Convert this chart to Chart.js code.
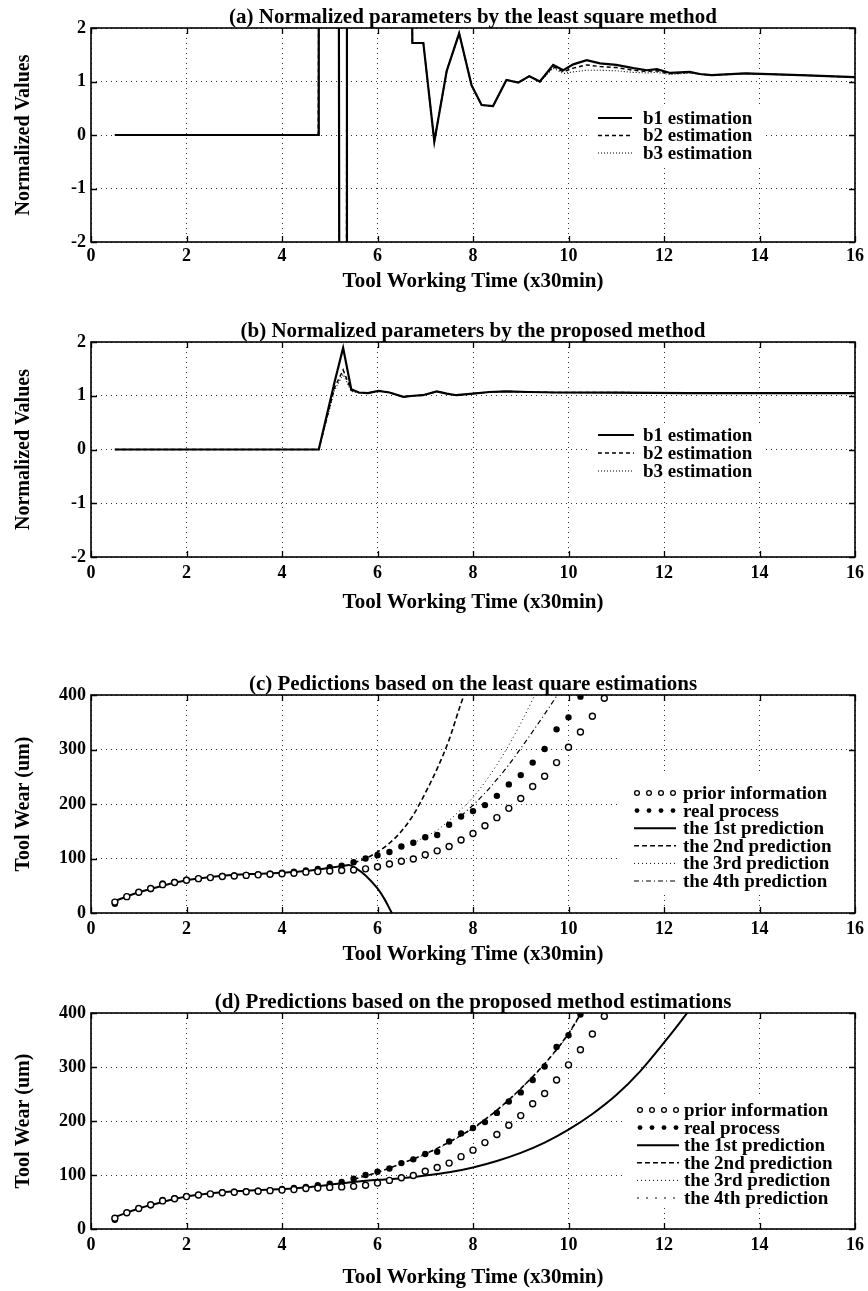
<!DOCTYPE html>
<html>
<head>
<meta charset="utf-8">
<title>Tool wear estimation</title>
<script src="https://cdn.jsdelivr.net/npm/chart.js@4.4.1/dist/chart.umd.min.js"></script>
<style>
  html, body { margin: 0; padding: 0; background: #fff; }
  #page { position: relative; width: 868px; height: 1291px; overflow: hidden; }
  canvas { position: absolute; left: 0; }
</style>
</head>
<body>
<div id="page">
  <canvas id="chartA" width="868" height="310" style="top:0"></canvas>
  <canvas id="chartB" width="868" height="320" style="top:310px"></canvas>
  <canvas id="chartC" width="868" height="345" style="top:630px"></canvas>
  <canvas id="chartD" width="868" height="316" style="top:975px"></canvas>
</div>
<script>
// ---- (a) normalized parameters, least square method ----
const timeLS = [0.5, 4.76, 4.77, 5.19, 5.2, 5.35, 5.36, 6.72, 6.73, 6.96, 7.19, 7.45, 7.71, 7.97, 8.18, 8.42, 8.7, 8.95, 9.18, 9.4, 9.68, 9.89, 10.1, 10.38, 10.66, 11.0, 11.36, 11.64, 11.85, 12.13, 12.54, 12.75, 13.0, 13.7, 14.85, 16.0];
const b1LS = [0, 0, 3, 3, -3, -3, 3, 3, 1.72, 1.72, -0.12, 1.2, 1.9, 0.93, 0.56, 0.54, 1.03, 0.98, 1.1, 1.0, 1.31, 1.21, 1.32, 1.40, 1.34, 1.31, 1.25, 1.21, 1.23, 1.16, 1.18, 1.14, 1.12, 1.15, 1.12, 1.08];
const b2LS = [0, 0, 3, 3, -3, -3, 3, 3, 1.72, 1.72, -0.12, 1.2, 1.9, 0.93, 0.56, 0.54, 1.03, 0.98, 1.1, 1.0, 1.28, 1.18, 1.25, 1.31, 1.28, 1.26, 1.21, 1.19, 1.2, 1.15, 1.17, 1.14, 1.12, 1.15, 1.12, 1.08];
const b3LS = [0, 0, 3, 3, -3, -3, 3, 3, 1.72, 1.72, -0.12, 1.2, 1.9, 0.93, 0.56, 0.54, 1.03, 0.98, 1.1, 1.0, 1.25, 1.15, 1.18, 1.21, 1.21, 1.2, 1.17, 1.16, 1.17, 1.13, 1.16, 1.13, 1.12, 1.15, 1.12, 1.08];

// ---- (b) normalized parameters, proposed method ----
const timeProp = [0.5, 4.77, 5.1, 5.28, 5.45, 5.61, 5.8, 6.02, 6.25, 6.54, 6.75, 6.95, 7.24, 7.45, 7.65, 8.0, 8.35, 8.7, 9.17, 9.75, 11.0, 12.5, 14.0, 16.0];
const b1Prop = [0, 0, 1.25, 1.89, 1.12, 1.06, 1.05, 1.09, 1.06, 0.98, 1.0, 1.01, 1.08, 1.04, 1.01, 1.04, 1.07, 1.08, 1.07, 1.06, 1.06, 1.05, 1.05, 1.05];
const b2Prop = [0, 0, 1.15, 1.48, 1.1, 1.06, 1.05, 1.09, 1.06, 0.98, 1.0, 1.01, 1.08, 1.04, 1.01, 1.04, 1.07, 1.08, 1.07, 1.06, 1.06, 1.05, 1.05, 1.05];
const b3Prop = [0, 0, 1.1, 1.4, 1.08, 1.05, 1.05, 1.09, 1.06, 0.98, 1.0, 1.01, 1.08, 1.04, 1.01, 1.04, 1.07, 1.08, 1.07, 1.06, 1.06, 1.05, 1.05, 1.05];

// ---- (c)/(d) measured tool wear ----
const wearTime = [0.5, 0.75, 1, 1.25, 1.5, 1.75, 2, 2.25, 2.5, 2.75, 3, 3.25, 3.5, 3.75, 4, 4.25, 4.5, 4.75, 5, 5.25, 5.5, 5.75, 6, 6.25, 6.5, 6.75, 7, 7.25, 7.5, 7.75, 8, 8.25, 8.5, 8.75, 9, 9.25, 9.5, 9.75, 10, 10.25, 10.5, 10.75];
const priorWear = [20, 30, 38, 45, 52, 56, 60, 63, 65, 67, 68, 69, 70, 71, 72, 73, 75, 76, 77, 78, 79, 81, 85, 90, 95, 99, 107, 114, 122, 134, 146, 160, 175, 192, 210, 232, 251, 276, 304, 332, 361, 394];
const realWear = [17, 30, 38, 44, 54, 57, 61, 63, 65, 68, 69, 70, 71, 72, 74, 76, 78, 81, 84, 87, 93, 100, 106, 112, 122, 129, 139, 143, 162, 177, 187, 198, 215, 236, 253, 276, 301, 337, 359, 397];

// predictions from the least square estimations (c)
const pred1TimeC = [0.5, 1, 1.5, 2, 2.5, 3, 3.5, 4, 4.5, 5, 5.25, 5.4, 5.55, 5.75, 6, 6.15, 6.3, 6.4];
const pred1C = [22, 38, 50, 60, 66, 70, 72, 74, 77, 83, 86, 88, 82, 69, 45, 25, 0, -15];
const pred2TimeC = [5.5, 5.75, 6, 6.25, 6.5, 6.75, 7, 7.25, 7.5, 7.75, 7.9];
const pred2C = [92, 100, 112, 128, 150, 180, 220, 265, 318, 385, 420];
const pred3TimeC = [6.75, 7, 7.25, 7.5, 7.75, 8, 8.25, 8.5, 8.75, 9, 9.25, 9.4];
const pred3C = [128, 140, 152, 170, 190, 212, 240, 272, 308, 348, 392, 420];
const pred4TimeC = [7.75, 8, 8.25, 8.5, 8.75, 9, 9.25, 9.5, 9.75, 9.9];
const pred4C = [178, 198, 220, 245, 272, 302, 333, 365, 398, 420];

// predictions from the proposed method estimations (d)
const pred1TimeD = [0.5, 1, 1.5, 2, 2.5, 3, 3.5, 4, 4.5, 5, 5.5, 6, 6.5, 7, 7.5, 8, 8.5, 9, 9.5, 10, 10.5, 11, 11.5, 12, 12.5, 12.6];
const pred1D = [22, 38, 50, 60, 66, 70, 72, 74, 77, 82, 87, 91, 94, 99, 105, 114, 126, 141, 160, 184, 213, 248, 292, 345, 402, 415];
const pred2TimeD = [5.5, 6, 6.5, 7, 7.5, 8, 8.5, 9, 9.5, 10, 10.25, 10.4];
const pred2D = [92, 105, 121, 139, 161, 187, 220, 260, 306, 362, 398, 420];
const pred3TimeD = [6.75, 7, 7.5, 8, 8.5, 9, 9.5, 10, 10.25, 10.4];
const pred3D = [129, 138, 160, 186, 219, 259, 305, 360, 396, 418];
const pred4TimeD = [7.75, 8, 8.5, 9, 9.5, 10, 10.25, 10.4];
const pred4D = [176, 186, 220, 260, 306, 361, 397, 420];

const xTicks = [0, 2, 4, 6, 8, 10, 12, 14, 16];

const SERIF = '"Liberation Serif", "Times New Roman", serif';
Chart.defaults.font.family = SERIF;
Chart.defaults.color = '#000';

function pts(xs, ys) {
    return ys.map((y, i) => ({ x: xs[i], y: y }));
}

// box around the plot with inward ticks on all four sides (matlab style),
// plus the panel title centred over the plot area
const framePlugin = {
    id: 'frame',
    afterDraw(chart, args, opts) {
        const { ctx, chartArea: a, scales } = chart;
        ctx.save();
        ctx.strokeStyle = '#000';
        ctx.lineWidth = 1.6;
        ctx.strokeRect(a.left, a.top, a.right - a.left, a.bottom - a.top);
        ctx.lineWidth = 1.3;
        ctx.beginPath();
        scales.x.ticks.forEach(t => {
            const px = Math.round(scales.x.getPixelForValue(t.value)) + 0.5;
            ctx.moveTo(px, a.bottom); ctx.lineTo(px, a.bottom - 6);
            ctx.moveTo(px, a.top); ctx.lineTo(px, a.top + 6);
        });
        scales.y.ticks.forEach(t => {
            const py = Math.round(scales.y.getPixelForValue(t.value)) + 0.5;
            ctx.moveTo(a.left, py); ctx.lineTo(a.left + 6, py);
            ctx.moveTo(a.right, py); ctx.lineTo(a.right - 6, py);
        });
        ctx.stroke();

        if (opts.text) {
            ctx.fillStyle = '#000';
            ctx.font = 'bold 21px ' + SERIF;
            ctx.textAlign = 'center';
            ctx.textBaseline = 'alphabetic';
            ctx.fillText(opts.text, (a.left + a.right) / 2, a.top - 5);
        }
        ctx.restore();
    }
};

// legend drawn inside the plot on a white patch, like the original figure
const insetLegend = {
    id: 'insetLegend',
    afterDraw(chart, args, opts) {
        if (!opts.box) return;
        const ctx = chart.ctx;
        const [bx, by, bw, bh] = opts.box;
        ctx.save();
        ctx.fillStyle = '#fff';
        ctx.fillRect(bx, by, bw, bh);
        ctx.font = opts.font;
        ctx.textBaseline = 'middle';
        chart.data.datasets.forEach((ds, i) => {
            const y = opts.y + i * opts.rowH;
            const x0 = opts.x, x1 = opts.x + opts.sampleW;
            ctx.strokeStyle = '#000';
            ctx.fillStyle = '#000';
            if (ds.showLine === false) {
                for (let k = 0; k < 4; k++) {
                    const cx = x0 + 3 + k * (opts.sampleW - 6) / 3;
                    ctx.beginPath();
                    ctx.arc(cx, y, ds.legendRadius || 2.5, 0, Math.PI * 2);
                    if (ds.pointBackgroundColor === '#fff') {
                        ctx.fillStyle = '#fff';
                        ctx.fill();
                        ctx.lineWidth = 1.3;
                        ctx.stroke();
                    } else {
                        ctx.fillStyle = '#000';
                        ctx.fill();
                    }
                }
            } else {
                ctx.lineWidth = ds.borderWidth;
                ctx.setLineDash(ds.borderDash || []);
                ctx.beginPath();
                ctx.moveTo(x0, y);
                ctx.lineTo(x1, y);
                ctx.stroke();
                ctx.setLineDash([]);
            }
            ctx.fillStyle = '#000';
            ctx.fillText(ds.label, opts.textX, y + 1);
        });
        ctx.restore();
    }
};

function panelOptions(p) {
    return {
        responsive: false,
        animation: false,
        events: [],
        layout: { padding: { left: 0, right: 13, top: p.plotTop, bottom: 0 } },
        plugins: {
            legend: { display: false },
            tooltip: { enabled: false },
            title: { display: false },
            frame: { text: p.title },
            insetLegend: p.legend
        },
        scales: {
            x: {
                type: 'linear',
                min: 0,
                max: 16,
                afterBuildTicks(scale) {
                    scale.ticks = xTicks.map(v => ({ value: v }));
                },
                afterFit(scale) {
                    scale.height = p.xHeight;
                    scale.paddingLeft = 0;
                    scale.paddingRight = 0;
                },
                grid: { color: '#333', lineWidth: 1, drawTicks: false, borderDash: [1, 4] },
                border: { display: false, dash: [1, 4] },
                ticks: { padding: p.xTickPad, maxRotation: 0, font: { size: 18, weight: 'bold' } },
                title: {
                    display: true,
                    text: 'Tool Working Time (x30min)',
                    font: { size: 21, weight: 'bold' },
                    padding: { top: 0, bottom: p.xTitlePad }
                }
            },
            y: {
                min: p.yMin,
                max: p.yMax,
                ticks: { stepSize: p.yStep, padding: 5, font: { size: 18, weight: 'bold' } },
                afterFit(scale) {
                    scale.width = 91;
                    scale.paddingTop = 0;
                    scale.paddingBottom = 0;
                },
                grid: { color: '#333', lineWidth: 1, drawTicks: false, borderDash: [1, 4] },
                border: { display: false, dash: [1, 4] },
                title: {
                    display: true,
                    text: p.yTitle,
                    font: { size: 20, weight: 'bold' },
                    padding: { top: 12, bottom: 0 }
                }
            }
        }
    };
}

function lineSet(label, xs, ys, width, dash, smooth) {
    return {
        label: label,
        data: pts(xs, ys),
        borderColor: '#000',
        backgroundColor: '#000',
        borderWidth: width,
        borderDash: dash,
        pointRadius: 0,
        fill: false,
        tension: 0,
        cubicInterpolationMode: smooth ? 'monotone' : 'default'
    };
}

function wearSets(p1, p2, p3, p4, dash4) {
    return [
        {
            label: 'prior information',
            data: pts(wearTime, priorWear),
            showLine: false,
            pointRadius: 3,
            pointBorderWidth: 1.4,
            pointBorderColor: '#000',
            pointBackgroundColor: '#fff',
            legendRadius: 2.4
        },
        {
            label: 'real process',
            data: pts(wearTime, realWear),
            showLine: false,
            pointRadius: 3.2,
            pointBorderWidth: 0,
            pointBorderColor: '#000',
            pointBackgroundColor: '#000',
            legendRadius: 2.4
        },
        lineSet('the 1st prediction', p1[0], p1[1], 2, [], true),
        lineSet('the 2nd prediction', p2[0], p2[1], 1.6, [5, 3], true),
        lineSet('the 3rd prediction', p3[0], p3[1], 1, [1, 3], true),
        lineSet('the 4th prediction', p4[0], p4[1], 1.2, dash4, true)
    ];
}

const plugins = [framePlugin, insetLegend];

new Chart(document.getElementById('chartA'), {
    type: 'line',
    data: {
        datasets: [
            lineSet('b1 estimation', timeLS, b1LS, 2.2, [], false),
            lineSet('b2 estimation', timeLS, b2LS, 1.5, [4, 3], false),
            lineSet('b3 estimation', timeLS, b3LS, 1.1, [1, 2], false)
        ]
    },
    options: panelOptions({
        title: '(a) Normalized parameters by the least square method',
        plotTop: 28,
        yTitle: 'Normalized Values', yMin: -2, yMax: 2, yStep: 1,
        xHeight: 68, xTickPad: 4, xTitlePad: 16,
        legend: { box: [590, 107, 172, 57], x: 598, sampleW: 34, textX: 643, y: 118, rowH: 17.5, font: 'bold 19px ' + SERIF }
    }),
    plugins: plugins
});

new Chart(document.getElementById('chartB'), {
    type: 'line',
    data: {
        datasets: [
            lineSet('b1 estimation', timeProp, b1Prop, 2.2, [], false),
            lineSet('b2 estimation', timeProp, b2Prop, 1.5, [4, 3], false),
            lineSet('b3 estimation', timeProp, b3Prop, 1.1, [1, 2], false)
        ]
    },
    options: panelOptions({
        title: '(b) Normalized parameters by the proposed method',
        plotTop: 32,
        yTitle: 'Normalized Values', yMin: -2, yMax: 2, yStep: 1,
        xHeight: 73, xTickPad: 6, xTitlePad: 15,
        legend: { box: [590, 113, 172, 57], x: 598, sampleW: 36, textX: 643, y: 125, rowH: 18, font: 'bold 19px ' + SERIF }
    }),
    plugins: plugins
});

new Chart(document.getElementById('chartC'), {
    type: 'line',
    data: {
        datasets: wearSets([pred1TimeC, pred1C], [pred2TimeC, pred2C], [pred3TimeC, pred3C], [pred4TimeC, pred4C], [5, 3, 1, 3])
    },
    options: panelOptions({
        title: '(c) Pedictions based on the least quare estimations',
        plotTop: 65,
        yTitle: 'Tool Wear (um)', yMin: 0, yMax: 400, yStep: 100,
        xHeight: 62, xTickPad: 6, xTitlePad: 8,
        legend: { box: [620, 145, 234, 120], x: 634, sampleW: 42, textX: 683, y: 163, rowH: 17.6, font: 'bold 19px ' + SERIF }
    }),
    plugins: plugins
});

new Chart(document.getElementById('chartD'), {
    type: 'line',
    data: {
        datasets: wearSets([pred1TimeD, pred1D], [pred2TimeD, pred2D], [pred3TimeD, pred3D], [pred4TimeD, pred4D], [2, 7])
    },
    options: panelOptions({
        title: '(d) Predictions based on the proposed method estimations',
        plotTop: 38,
        yTitle: 'Tool Wear (um)', yMin: 0, yMax: 400, yStep: 100,
        xHeight: 62, xTickPad: 6, xTitlePad: 1,
        legend: { box: [625, 123, 229, 110], x: 637, sampleW: 42, textX: 684, y: 135, rowH: 17.6, font: 'bold 19px ' + SERIF }
    }),
    plugins: plugins
});
</script>
</body>
</html>
